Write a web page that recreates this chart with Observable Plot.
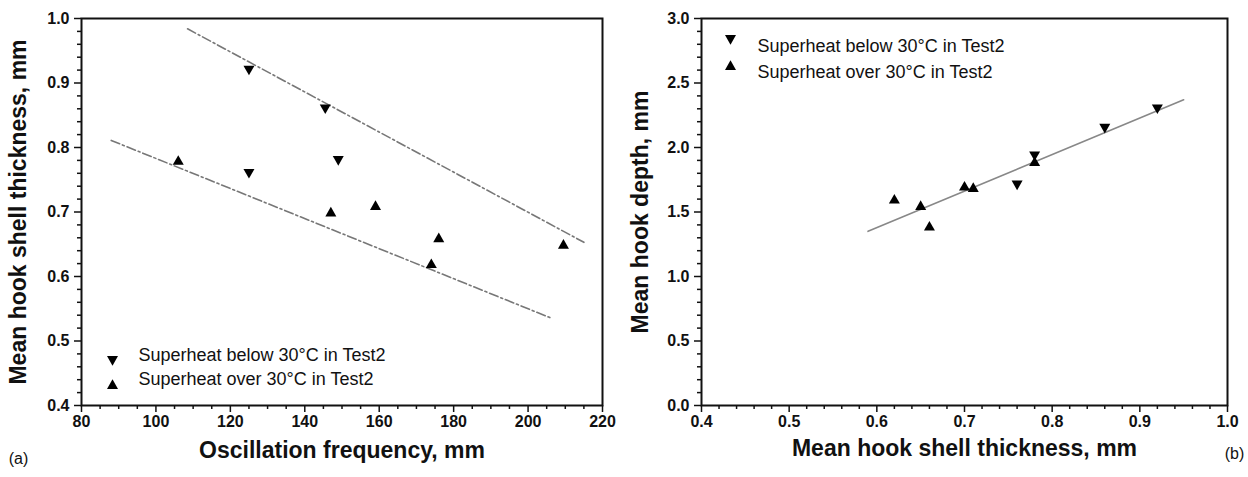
<!DOCTYPE html>
<html>
<head>
<meta charset="utf-8">
<script src="https://cdn.jsdelivr.net/npm/d3@7"></script>
<script src="https://cdn.jsdelivr.net/npm/@observablehq/plot@0.6"></script>
<style>
  html, body { margin: 0; padding: 0; background: #fff; }
  #wrap { display: flex; width: 1248px; height: 477px; }
</style>
</head>
<body>
<div id="wrap"></div>
<script>
// ---------- Panel (a) data ----------
const aBelowX = [125, 145.5, 125, 149];
const aBelowY = [0.92, 0.86, 0.76, 0.78];
const aOverX = [106, 147, 159, 174, 176, 209.5];
const aOverY = [0.78, 0.70, 0.71, 0.62, 0.66, 0.65];
const aUpperLineX = [108.5, 215];
const aUpperLineY = [0.984, 0.653];
const aLowerLineX = [88, 206];
const aLowerLineY = [0.811, 0.536];
const aXTicks = [80, 100, 120, 140, 160, 180, 200, 220];
const aYTicks = [0.4, 0.5, 0.6, 0.7, 0.8, 0.9, 1.0];

// ---------- Panel (b) data ----------
const bBelowX = [0.76, 0.78, 0.86, 0.92];
const bBelowY = [1.71, 1.935, 2.15, 2.30];
const bOverX = [0.62, 0.65, 0.66, 0.70, 0.71, 0.78];
const bOverY = [1.60, 1.55, 1.39, 1.70, 1.69, 1.89];
const bFitX = [0.59, 0.95];
const bFitY = [1.35, 2.37];
const bXTicks = [0.4, 0.5, 0.6, 0.7, 0.8, 0.9, 1.0];
const bYTicks = [0.0, 0.5, 1.0, 1.5, 2.0, 2.5, 3.0];

const legendBelow = "Superheat below 30°C in Test2";
const legendOver = "Superheat over 30°C in Test2";

// ---------- helpers ----------
const FONT = "'Liberation Sans', Arial, Helvetica, sans-serif";
const upTri = {draw(ctx, size) {
  const r = Math.sqrt(size / Math.PI);
  ctx.moveTo(0, -r * 0.95); ctx.lineTo(r, r * 0.8); ctx.lineTo(-r, r * 0.8); ctx.closePath();
}};
const downTri = {draw(ctx, size) {
  const r = Math.sqrt(size / Math.PI);
  ctx.moveTo(0, r * 0.95); ctx.lineTo(r, -r * 0.8); ctx.lineTo(-r, -r * 0.8); ctx.closePath();
}};
const pts = (xs, ys) => xs.map((x, i) => ({x, y: ys[i]}));
const minor = (lo, hi, step, majors) =>
  d3.range(Math.round((hi - lo) / step) + 1)
    .map(i => +(lo + i * step).toFixed(4))
    .filter(v => !majors.some(m => Math.abs(m - v) < 1e-6));

const TICKLBL = {fontSize: 16, fontWeight: "bold", fill: "#111", fontFamily: FONT};
function axes(xT, yT, xMin, yMin, xFmt, yFmt) {
  return [
    Plot.axisX({ticks: xMin, tickSize: 4, tickFormat: () => "", label: null, strokeWidth: 1.5}),
    Plot.axisY({ticks: yMin, tickSize: 4, tickFormat: () => "", label: null, strokeWidth: 1.5}),
    Plot.axisX({ticks: xT, tickSize: 7, tickFormat: () => "", label: null, strokeWidth: 1.5}),
    Plot.axisY({ticks: yT, tickSize: 7, tickFormat: () => "", label: null, strokeWidth: 1.5}),
    Plot.text(xT, {x: d => d, text: xFmt, frameAnchor: "bottom", dy: 21, textAnchor: "middle", ...TICKLBL}),
    Plot.text(yT, {y: d => d, text: yFmt, frameAnchor: "left", dx: -12, textAnchor: "end", ...TICKLBL}),
    Plot.frame({stroke: "#111", strokeWidth: 2})
  ];
}
const baseStyle = {fontFamily: FONT, color: "#111", background: "#fff"};
const TITLE = {text: d => d, textAnchor: "middle", fontSize: 23, fontWeight: "bold", fill: "#111"};
const LEG = {text: d => d, textAnchor: "start", fontSize: 18, fontWeight: "normal", fill: "#111"};
const SYM = {r: 5.5, fill: "#000", stroke: "none"};

// ---------- Panel (a) ----------
const plotA = Plot.plot({
  width: 620, height: 477,
  marginLeft: 81, marginRight: 18, marginTop: 18, marginBottom: 72,
  style: baseStyle,
  x: {domain: [80, 220], label: null},
  y: {domain: [0.4, 1.0], label: null},
  marks: [
    ...axes(aXTicks, aYTicks, minor(80, 220, 5, aXTicks), minor(0.4, 1.0, 0.02, aYTicks), d3.format("d"), d3.format(".1f")),
    Plot.line(pts(aUpperLineX, aUpperLineY), {x: "x", y: "y", stroke: "#777", strokeWidth: 1.6, strokeDasharray: "9,3,2,3"}),
    Plot.line(pts(aLowerLineX, aLowerLineY), {x: "x", y: "y", stroke: "#777", strokeWidth: 1.6, strokeDasharray: "9,3,2,3"}),
    Plot.dot(pts(aBelowX, aBelowY), {x: "x", y: "y", symbol: downTri, ...SYM}),
    Plot.dot(pts(aOverX, aOverY), {x: "x", y: "y", symbol: upTri, ...SYM}),
    // legend
    Plot.dot([0], {frameAnchor: "bottom-left", dx: 31, dy: -45, symbol: downTri, ...SYM}),
    Plot.dot([0], {frameAnchor: "bottom-left", dx: 31, dy: -21, symbol: upTri, ...SYM}),
    Plot.text([legendBelow], {frameAnchor: "bottom-left", dx: 57, dy: -45, ...LEG}),
    Plot.text([legendOver], {frameAnchor: "bottom-left", dx: 57, dy: -21, ...LEG}),
    // titles
    Plot.text(["Oscillation frequency, mm"], {frameAnchor: "bottom", dy: 52, ...TITLE}),
    Plot.text(["Mean hook shell thickness, mm"], {frameAnchor: "left", dx: -63, rotate: -90, ...TITLE}),
    Plot.text(["(a)"], {text: d => d, frameAnchor: "bottom-left", dx: -63, dy: 58, textAnchor: "middle", fontSize: 16, fontWeight: "normal", fill: "#111"})
  ]
});

// ---------- Panel (b) ----------
const plotB = Plot.plot({
  width: 628, height: 477,
  marginLeft: 81, marginRight: 21, marginTop: 18, marginBottom: 72,
  style: baseStyle,
  x: {domain: [0.4, 1.0], label: null},
  y: {domain: [0, 3.0], label: null},
  marks: [
    ...axes(bXTicks, bYTicks, minor(0.4, 1.0, 0.02, bXTicks), minor(0, 3.0, 0.1, bYTicks), d3.format(".1f"), d3.format(".1f")),
    Plot.line(pts(bFitX, bFitY), {x: "x", y: "y", stroke: "#888", strokeWidth: 1.6}),
    Plot.dot(pts(bBelowX, bBelowY), {x: "x", y: "y", symbol: downTri, ...SYM}),
    Plot.dot(pts(bOverX, bOverY), {x: "x", y: "y", symbol: upTri, ...SYM}),
    // legend
    Plot.dot([0], {frameAnchor: "top-left", dx: 29, dy: 21, symbol: downTri, ...SYM}),
    Plot.dot([0], {frameAnchor: "top-left", dx: 29, dy: 47, symbol: upTri, ...SYM}),
    Plot.text([legendBelow], {frameAnchor: "top-left", dx: 56, dy: 21, ...LEG}),
    Plot.text([legendOver], {frameAnchor: "top-left", dx: 56, dy: 47, ...LEG}),
    // titles
    Plot.text(["Mean hook shell thickness, mm"], {frameAnchor: "bottom", dy: 50, ...TITLE}),
    Plot.text(["Mean hook depth, mm"], {frameAnchor: "left", dx: -61, rotate: -90, ...TITLE}),
    Plot.text(["(b)"], {text: d => d, frameAnchor: "bottom-right", dx: 7, dy: 53, textAnchor: "middle", fontSize: 16, fontWeight: "normal", fill: "#111"})
  ]
});

document.getElementById("wrap").append(plotA, plotB);
</script>
</body>
</html>
